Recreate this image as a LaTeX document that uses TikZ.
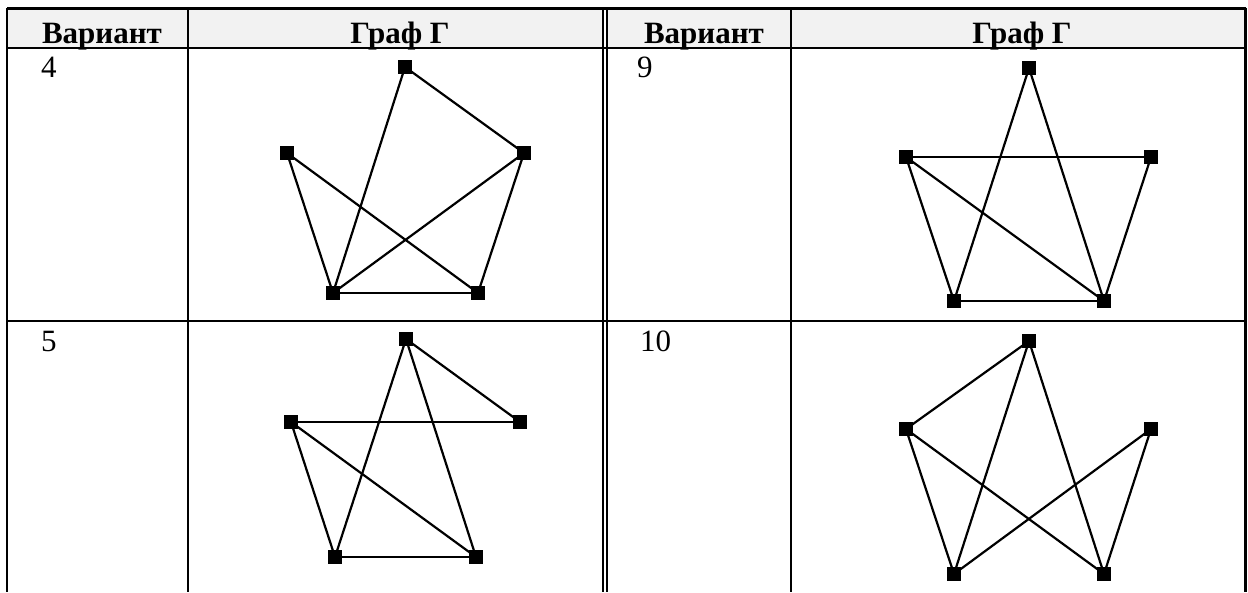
\documentclass[tikz,border=0pt]{standalone}
\usepackage{fontspec}
\setmainfont{Liberation Serif}
\usetikzlibrary{positioning}
\definecolor{fonShapki}{RGB}{242,242,242}
\tikzset{
  liniya/.style={line width=2.8pt, black},
  dvoinaya/.style={line width=2pt, black},
  shapka/.style={font=\fontsize{31}{36}\selectfont\bfseries, anchor=base, inner sep=0pt},
  nomer/.style={font=\fontsize{31}{36}\selectfont, anchor=base west, inner sep=0pt},
  vershina/.style={rectangle, fill=black, minimum size=13.5pt, inner sep=0pt},
  rebro/.style={line width=2.2pt, black},
}

\begin{document}
\begin{tikzpicture}[x=1pt, y=-1pt]
  \useasboundingbox (0,0) rectangle (1248,592);

  % shapka tablicy
  \fill[fonShapki] (7,8) rectangle (603,48);
  \fill[fonShapki] (607,8) rectangle (1245,48);
  \node[shapka] (var1) at (102,43) {Вариант};
  \node[shapka] (graf1) at (400,43) {Граф Г};
  \node[shapka] (var2) at (704,43) {Вариант};
  \node[shapka] (graf2) at (1022,43) {Граф Г};

  % linii tablicy
  \draw[liniya] (7,8.5) -- (1245.5,8.5);
  \draw[liniya] (7,48) -- (1245.5,48);
  \draw[liniya] (7,321) -- (1245.5,321);
  \draw[liniya] (7,7.5) -- (7,592);
  \draw[liniya] (188,7.5) -- (188,592);
  \draw[dvoinaya] (603,7.5) -- (603,592);
  \draw[dvoinaya] (607,7.5) -- (607,592);
  \draw[liniya] (791,7.5) -- (791,592);
  \draw[liniya] (1245.5,7.5) -- (1245.5,592);

  % nomera variantov
  \node[nomer] (n4) at (41,77) {4};
  \node[nomer] (n9) at (637,77) {9};
  \node[nomer] (n5) at (41,351) {5};
  \node[nomer] (n10) at (640,351) {10};

  % variant 4
  \node[vershina] (g4verh) at (405,67) {};
  \node[vershina] (g4lev) at (287,153) {};
  \node[vershina] (g4prav) at (524,153) {};
  \node[vershina] (g4nizl) at (333,293) {};
  \node[vershina] (g4nizp) at (478,293) {};
  \foreach \a/\b in {verh/nizl, verh/prav, lev/nizl, lev/nizp, prav/nizl, prav/nizp, nizl/nizp}
    \draw[rebro] (g4\a.center) -- (g4\b.center);

  % variant 9
  \node[vershina] (g9verh) at (1029,68) {};
  \node[vershina] (g9lev) at (906,157) {};
  \node[vershina] (g9prav) at (1151,157) {};
  \node[vershina] (g9nizl) at (954,301) {};
  \node[vershina] (g9nizp) at (1104,301) {};
  \foreach \a/\b in {verh/nizl, verh/nizp, lev/prav, lev/nizl, lev/nizp, prav/nizp, nizl/nizp}
    \draw[rebro] (g9\a.center) -- (g9\b.center);

  % variant 5
  \node[vershina] (g5verh) at (406,339) {};
  \node[vershina] (g5lev) at (291,422) {};
  \node[vershina] (g5prav) at (520,422) {};
  \node[vershina] (g5nizl) at (335,557) {};
  \node[vershina] (g5nizp) at (476,557) {};
  \foreach \a/\b in {verh/prav, verh/nizl, verh/nizp, lev/prav, lev/nizl, lev/nizp, nizl/nizp}
    \draw[rebro] (g5\a.center) -- (g5\b.center);

  % variant 10
  \node[vershina] (g10verh) at (1029,341) {};
  \node[vershina] (g10lev) at (906,429) {};
  \node[vershina] (g10prav) at (1151,429) {};
  \node[vershina] (g10nizl) at (954,574) {};
  \node[vershina] (g10nizp) at (1104,574) {};
  \foreach \a/\b in {verh/lev, verh/nizl, verh/nizp, lev/nizl, lev/nizp, prav/nizl, prav/nizp}
    \draw[rebro] (g10\a.center) -- (g10\b.center);
\end{tikzpicture}
\end{document}
